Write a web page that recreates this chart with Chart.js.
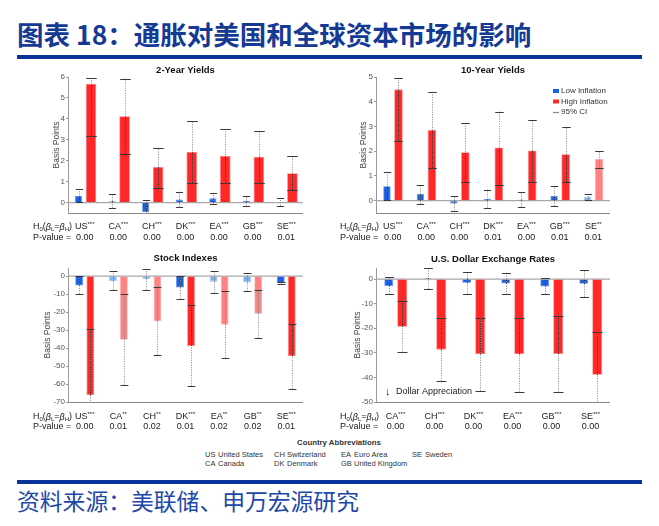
<!DOCTYPE html>
<html>
<head>
<meta charset="utf-8">
<script src="https://cdn.jsdelivr.net/npm/chart.js@4.4.1/dist/chart.umd.min.js"></script>
<style>
  body { margin: 0; background: #fff; }
  #page { position: relative; width: 659px; height: 526px; overflow: hidden; font-family: "Liberation Sans", Arial, sans-serif; }
  #title { position: absolute; left: 17px; top: 18px; font-family: "Noto Sans CJK SC", sans-serif; font-weight: 700; font-size: 26.5px; line-height: 32px; color: #153a94; white-space: nowrap; }
  .rule { position: absolute; left: 17px; width: 625px; height: 4px; background: #0b3399; }
  #source { position: absolute; left: 17px; top: 487px; font-family: "Noto Sans CJK SC", sans-serif; font-size: 22.8px; line-height: 28px; color: #2147a8; white-space: nowrap; }
  canvas { position: absolute; }
  .ab { position: absolute; font-size: 7.5px; color: #333; white-space: nowrap; line-height: 9px; }
  .ab b { display: inline-block; width: 13px; font-weight: normal; }
</style>
</head>
<body>
<div id="page">
  <div id="title">图表 18：通胀对美国和全球资本市场的影响</div>
  <div class="rule" style="top:55px"></div>

  <canvas id="yield2" width="330" height="185" style="left:0;top:60px"></canvas>
  <canvas id="yield10" width="329" height="185" style="left:330px;top:60px"></canvas>
  <canvas id="stocks" width="330" height="190" style="left:0;top:245px"></canvas>
  <canvas id="dollar" width="329" height="190" style="left:330px;top:245px"></canvas>

  <div class="ab" style="left:297px;top:438px;font-weight:bold;font-size:7.8px">Country Abbreviations</div>
  <div class="ab" style="left:205px;top:450px"><b>US</b>United States</div>
  <div class="ab" style="left:274px;top:450px"><b>CH</b>Switzerland</div>
  <div class="ab" style="left:341px;top:450px"><b>EA</b>Euro Area</div>
  <div class="ab" style="left:412px;top:450px"><b>SE</b>Sweden</div>
  <div class="ab" style="left:205px;top:459px"><b>CA</b>Canada</div>
  <div class="ab" style="left:274px;top:459px"><b>DK</b>Denmark</div>
  <div class="ab" style="left:341px;top:459px"><b>GB</b>United Kingdom</div>

  <div class="rule" style="top:480px;height:3.5px"></div>
  <div id="source">资料来源：美联储、申万宏源研究</div>
</div>

<script>
const countries = ["US", "CA", "CH", "DK", "EA", "GB", "SE"];
const fxCountries = ["CA", "CH", "DK", "EA", "GB", "SE"];

// 2-Year Yields
const y2Low = [0.32, 0.06, -0.45, 0.14, 0.2, 0.08, 0.02];
const y2LowCI = [[0.01, 0.63], [-0.27, 0.4], [-0.95, 0.1], [-0.22, 0.52], [-0.05, 0.47], [-0.15, 0.3], [-0.17, 0.2]];
const y2High = [5.68, 4.13, 1.7, 2.41, 2.22, 2.19, 1.4];
const y2HighCI = [[3.17, 5.95], [2.32, 5.92], [0.71, 2.62], [0.94, 3.89], [0.95, 3.5], [0.95, 3.41], [0.6, 2.22]];
const y2Stars = ["***", "***", "***", "***", "***", "***", "***"];
const y2P = ["0.00", "0.00", "0.00", "0.00", "0.00", "0.00", "0.01"];
const y2Light = [false, false, false, false, false, false, false];
const y2Ticks = [0, 1, 2, 3, 4, 5, 6];

// 10-Year Yields
const y10Low = [0.58, 0.27, -0.12, 0.08, 0.04, 0.19, 0.16];
const y10LowCI = [[0.01, 1.15], [-0.14, 0.64], [-0.4, 0.18], [-0.28, 0.45], [-0.25, 0.33], [-0.23, 0.6], [0.04, 0.27]];
const y10High = [4.5, 2.86, 1.96, 2.15, 2.03, 1.88, 1.68];
const y10HighCI = [[2.41, 4.97], [1.32, 4.4], [0.76, 3.14], [0.65, 3.6], [0.76, 3.26], [0.76, 2.97], [1.32, 2.01]];
const y10Stars = ["***", "***", "***", "***", "***", "***", "**"];
const y10P = ["0.00", "0.00", "0.00", "0.01", "0.00", "0.01", "0.01"];
const y10Light = [false, false, false, false, false, false, true];
const y10Ticks = [0, 1, 2, 3, 4, 5];

// Stock Indexes
const stLow = [-5.2, -2.8, -1.7, -6.3, -3.1, -3.5, -3.8];
const stLowCI = [[-10, 0], [-7.6, 2.9], [-7.6, 4.0], [-12.7, 0], [-9.2, 2.9], [-8.5, 1.8], [-4.3, -3.4]];
const stHigh = [-66.3, -35.4, -25.1, -38.8, -27, -21, -44.5];
const stHighCI = [[-75, -29.5], [-60.4, -10.2], [-43.8, -6.3], [-61.1, -16.2], [-45.6, -8.5], [-34.5, -7.6], [-62.6, -26.8]];
const stStars = ["***", "**", "**", "***", "**", "**", "***"];
const stP = ["0.00", "0.01", "0.02", "0.01", "0.02", "0.02", "0.01"];
const stLight = [false, true, true, false, true, true, false];
const stTicks = [0, -10, -20, -30, -40, -50, -60, -70];

// U.S. Dollar Exchange Rates
const fxLow = [-2.85, 0.4, -1.5, -1.8, -3.0, -1.9];
const fxLowCI = [[-6.2, 0.8], [-4.1, 4.7], [-6.0, 2.85], [-6.2, 2.6], [-6.1, 0.55], [-7.45, 3.65]];
const fxHigh = [-19.4, -28.7, -30.6, -30.6, -30.5, -38.9];
const fxHighCI = [[-29.5, -8.8], [-41.6, -15.7], [-45.5, -15.8], [-45.8, -15.8], [-45.8, -14.9], [-55, -21.5]];
const fxStars = ["***", "***", "***", "***", "***", "***"];
const fxP = ["0.00", "0.00", "0.00", "0.00", "0.00", "0.00"];
const fxLight = [false, false, false, false, false, false];
const fxTicks = [0, -10, -20, -30, -40, -50];

const BLUE = "#1c5fe0", BLUE_LIGHT = "#7eb0f4";
const RED = "#ff2727", RED_LIGHT = "#ff8282";
const FONT = "'Liberation Sans', Arial, sans-serif";

function drawPieces(ctx, pieces, x, y) {
  pieces.forEach(([t, size, dy, style]) => {
    ctx.font = (style || "") + " " + size + "px " + FONT;
    ctx.fillText(t, x, y + dy);
    x += ctx.measureText(t).width;
  });
  return x;
}

function dotted(ctx, x, y1, y2, color) {
  if (Math.abs(y2 - y1) < 0.5) return;
  ctx.strokeStyle = color;
  ctx.setLineDash([1.2, 1.3]);
  ctx.beginPath();
  ctx.moveTo(x, y1);
  ctx.lineTo(x, y2);
  ctx.stroke();
  ctx.setLineDash([]);
}

const extras = {
  id: "extras",
  beforeDatasetsDraw(chart) {
    const { ctx, chartArea: a, scales: { y } } = chart;
    ctx.save();
    ctx.strokeStyle = "#a8a8a8";
    ctx.lineWidth = 1.3;
    const y0 = y.getPixelForValue(0);
    ctx.beginPath();
    ctx.moveTo(a.left, y0);
    ctx.lineTo(a.right, y0);
    ctx.stroke();
    ctx.strokeStyle = "#8a8a8a";
    ctx.lineWidth = 1;
    ctx.beginPath();
    ctx.moveTo(a.left, a.bottom + 0.5);
    ctx.lineTo(a.right, a.bottom + 0.5);
    ctx.stroke();
    ctx.restore();
  },
  afterDatasetsDraw(chart) {
    const { ctx, chartArea: a, scales: { y } } = chart;
    const p = chart.options.plugins.extras;
    ctx.save();
    ctx.beginPath();
    ctx.rect(a.left, a.top - 3, a.right - a.left, a.bottom - a.top + 3);
    ctx.clip();
    ctx.lineWidth = 1;
    [p.lowCI, p.highCI].forEach((cis, d) => {
      const meta = chart.getDatasetMeta(d);
      const vals = chart.data.datasets[d].data;
      meta.data.forEach((bar, i) => {
        const [lo, hi] = cis[i];
        const v = vals[i];
        const bLo = Math.min(0, v), bHi = Math.max(0, v);
        const x = Math.round(bar.x) + 0.5;
        const ylo = y.getPixelForValue(lo), yhi = y.getPixelForValue(hi);
        dotted(ctx, x, ylo, yhi, "#9a9a9a");
        const inLo = Math.max(lo, bLo), inHi = Math.min(hi, bHi);
        if (inHi > inLo) dotted(ctx, x, y.getPixelForValue(inLo), y.getPixelForValue(inHi), p.light[i] ? "#8a8a8a" : "#2a2a2a");
        const w = Math.max(bar.width, 7) / 2;
        ctx.strokeStyle = "#3a3a3a";
        [ylo, yhi].forEach((yy) => {
          ctx.beginPath();
          ctx.moveTo(x - w, Math.round(yy) + 0.5);
          ctx.lineTo(x + w, Math.round(yy) + 0.5);
          ctx.stroke();
        });
      });
    });
    ctx.restore();
  },
  afterDraw(chart) {
    const { ctx, chartArea: a, scales: { x } } = chart;
    const p = chart.options.plugins.extras;
    ctx.save();
    ctx.textBaseline = "middle";
    ctx.fillStyle = "#111";
    ctx.textAlign = "center";
    ctx.font = "bold 9.5px " + FONT;
    ctx.fillText(p.title, (a.left + a.right) / 2, p.titleY);

    ctx.fillStyle = "#444";
    ctx.font = "8.5px " + FONT;
    ctx.translate(p.yTitleX, (a.top + a.bottom) / 2);
    ctx.rotate(-Math.PI / 2);
    ctx.fillText("Basis Points", 0, 0);
    ctx.setTransform(chart.currentDevicePixelRatio, 0, 0, chart.currentDevicePixelRatio, 0, 0);

    ctx.textAlign = "left";
    ctx.fillStyle = "#222";
    drawPieces(ctx, [["H", 9, 0], ["0", 6, 2], ["(", 9, 0], ["β", 9, 0, "italic"], ["L", 6, 2], ["=", 9, 0], ["β", 9, 0, "italic"], ["H", 6, 2], [")", 9, 0]], p.h0X, p.rowY);
    drawPieces(ctx, [["P-value =", 9, 0]], p.h0X, p.pY);

    chart.data.labels.forEach((c, i) => {
      const cx = x.getPixelForValue(i);
      ctx.font = "9px " + FONT;
      const w1 = ctx.measureText(c).width;
      ctx.font = "6px " + FONT;
      const w2 = ctx.measureText(p.stars[i]).width;
      drawPieces(ctx, [[c, 9, 0], [p.stars[i], 6, -2.5]], cx - (w1 + w2) / 2, p.rowY);
      ctx.textAlign = "center";
      ctx.font = "9px " + FONT;
      ctx.fillText(p.pvals[i], cx, p.pY);
      ctx.textAlign = "left";
    });

    if (p.legend) {
      const items = [["Low Inflation", BLUE], ["High Inflation", RED], ["95% CI", null]];
      items.forEach(([t, col], k) => {
        const yy = 91 - 60 + k * 10.5;
        if (col) {
          ctx.fillStyle = col;
          ctx.fillRect(223, yy - 2, 6, 4);
        } else {
          ctx.strokeStyle = "#888";
          ctx.lineWidth = 1.2;
          ctx.beginPath();
          ctx.moveTo(223, yy + 0.5);
          ctx.lineTo(229, yy + 0.5);
          ctx.stroke();
        }
        ctx.fillStyle = "#333";
        ctx.font = "8px " + FONT;
        ctx.fillText(t, 231, yy);
      });
    }
    if (p.note) {
      ctx.fillStyle = "#222";
      ctx.font = "11px " + FONT;
      ctx.fillText("↓", 55, 147);
      ctx.font = "9px " + FONT;
      ctx.fillText("Dollar Appreciation", 66, 147);
    }
    ctx.restore();
  },
};

function makePanel(cfg) {
  const data = {
    labels: cfg.cats,
    datasets: [
      {
        label: "Low Inflation",
        data: cfg.low,
        backgroundColor: cfg.light.map((l) => (l ? BLUE_LIGHT : BLUE)),
        borderColor: cfg.light.map((l) => (l ? "#a9cbf8" : "#5d8fec")),
        borderWidth: 0.8,
        categoryPercentage: cfg.catPct,
        barPercentage: cfg.lowPct,
      },
      {
        label: "High Inflation",
        data: cfg.high,
        backgroundColor: cfg.light.map((l) => (l ? RED_LIGHT : RED)),
        borderColor: cfg.light.map((l) => (l ? "#ffb0b0" : "#ff8080")),
        borderWidth: 0.8,
        categoryPercentage: cfg.catPct,
        barPercentage: cfg.highPct,
      },
    ],
  };

  const config = {
    type: "bar",
    data,
    options: {
      responsive: false,
      animation: false,
      layout: { padding: { left: 0, right: cfg.padR, top: cfg.padT, bottom: cfg.padB } },
      scales: {
        x: { display: false },
        y: {
          min: cfg.min,
          max: cfg.max,
          afterFit: (s) => { s.width = cfg.axisW; },
          afterBuildTicks: (s) => { s.ticks = cfg.ticks.map((v) => ({ value: v })); },
          ticks: { font: { family: "Liberation Sans", size: 8 }, color: "#555", padding: 1 },
          grid: { drawOnChartArea: false, drawTicks: true, tickLength: 2, color: "#999" },
          border: { display: true, color: "#9a9a9a" },
        },
      },
      plugins: {
        legend: { display: false },
        tooltip: { enabled: false },
        extras: {
          title: cfg.title,
          lowCI: cfg.lowCI,
          highCI: cfg.highCI,
          stars: cfg.stars,
          pvals: cfg.p,
          light: cfg.light,
          titleY: cfg.titleY,
          rowY: cfg.rowY,
          pY: cfg.pY,
          h0X: cfg.h0X,
          yTitleX: cfg.yTitleX,
          legend: cfg.legend,
          note: cfg.note,
        },
      },
    },
    plugins: [extras],
  };

  return new Chart(document.getElementById(cfg.id), config);
}

makePanel({
  id: "yield2", title: "2-Year Yields", cats: countries,
  low: y2Low, lowCI: y2LowCI, high: y2High, highCI: y2HighCI,
  stars: y2Stars, p: y2P, light: y2Light, ticks: y2Ticks, min: -0.5, max: 6,
  padR: 27, padT: 17, padB: 32, axisW: 68, catPct: 0.74, lowPct: 0.58, highPct: 0.85,
  titleY: 10, rowY: 167, pY: 178, h0X: 33, yTitleX: 57,
});

makePanel({
  id: "yield10", title: "10-Year Yields", cats: countries,
  low: y10Low, lowCI: y10LowCI, high: y10High, highCI: y10HighCI,
  stars: y10Stars, p: y10P, light: y10Light, ticks: y10Ticks, min: -0.5, max: 5,
  padR: 49, padT: 17, padB: 32, axisW: 46, catPct: 0.69, lowPct: 0.64, highPct: 0.74,
  titleY: 10, rowY: 167, pY: 178, h0X: 10, yTitleX: 34, legend: true,
});

makePanel({
  id: "stocks", title: "Stock Indexes", cats: countries,
  low: stLow, lowCI: stLowCI, high: stHigh, highCI: stHighCI,
  stars: stStars, p: stP, light: stLight, ticks: stTicks, min: -70, max: 4.5,
  padR: 27, padT: 23, padB: 33, axisW: 68, catPct: 0.66, lowPct: 0.72, highPct: 0.7,
  titleY: 13, rowY: 172, pY: 182, h0X: 33, yTitleX: 48,
});

makePanel({
  id: "dollar", title: "U.S. Dollar Exchange Rates", cats: fxCountries,
  low: fxLow, lowCI: fxLowCI, high: fxHigh, highCI: fxHighCI,
  stars: fxStars, p: fxP, light: fxLight, ticks: fxTicks, min: -50, max: 4.5,
  padR: 49, padT: 23, padB: 33, axisW: 46, catPct: 0.69, lowPct: 0.66, highPct: 0.74,
  titleY: 14, rowY: 172, pY: 182, h0X: 10, yTitleX: 28, note: true,
});
</script>
</body>
</html>
